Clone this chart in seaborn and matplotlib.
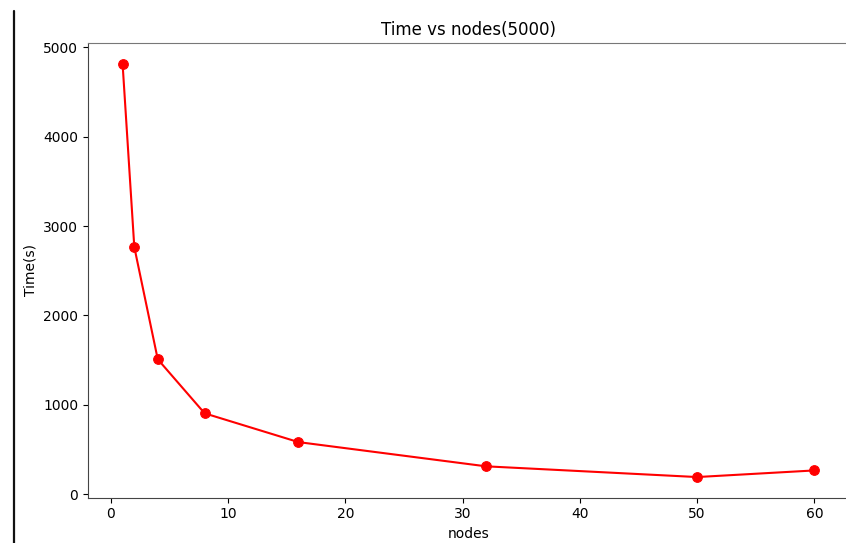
import matplotlib
matplotlib.use("Agg")
import matplotlib.pyplot as plt
import seaborn as sns
import pandas as pd
from matplotlib.lines import Line2D

# nodes vs time (5000)
nodes = [1, 2, 4, 8, 16, 32, 50, 60]
times = [4818, 2766, 1510, 905, 583, 312, 192, 266]

df = pd.DataFrame({"nodes": nodes, "Time(s)": times})

sns.set_style("ticks")
plt.rcParams['font.family'] = ['DejaVu Sans']
plt.rcParams['text.color'] = 'black'
plt.rcParams['axes.labelcolor'] = 'black'
plt.rcParams['xtick.color'] = 'black'
plt.rcParams['ytick.color'] = 'black'

fig = plt.figure(figsize=(8.46, 5.43), dpi=100)
ax = fig.add_axes([0.104, 0.0834, 0.8995, 0.8374])

sns.lineplot(data=df, x="nodes", y="Time(s)", marker="o", color="red",
             markersize=7, markeredgecolor="red", linewidth=1.5, ax=ax)
ax.set_title("Time vs nodes(5000)", fontsize=12, color="black")
ax.set_xlabel("nodes", fontsize=10)
ax.set_ylabel("Time(s)", fontsize=10)
ax.tick_params(labelsize=10, length=3.5)
ax.set_xticks([0, 10, 20, 30, 40, 50, 60])
ax.set_yticks([0, 1000, 2000, 3000, 4000, 5000])
ax.margins(x=0.05, y=0.05)
for s in ["left", "bottom"]:
    ax.spines[s].set_color("#444444")
ax.spines["top"].set_color("#777777")
ax.spines["top"].set_visible(True)
ax.spines["right"].set_visible(False)

# screenshot edge line on the left
fig.add_artist(Line2D([14 / 846, 14 / 846], [0, 1 - 11 / 543], color="#111111",
                      linewidth=1.6, transform=fig.transFigure))

fig.savefig("out.png", dpi=100)
